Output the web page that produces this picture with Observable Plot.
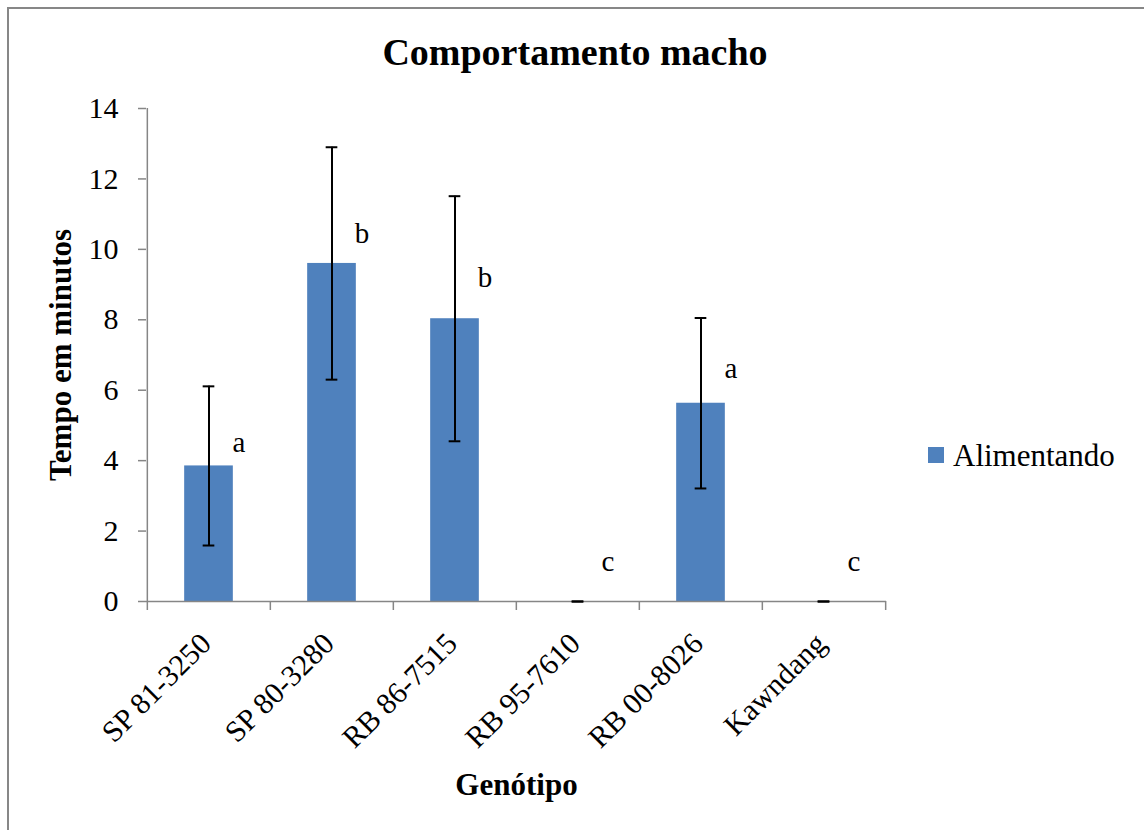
<!DOCTYPE html>
<html>
<head>
<meta charset="utf-8">
<script src="https://cdn.jsdelivr.net/npm/d3@7"></script>
<script src="https://cdn.jsdelivr.net/npm/@observablehq/plot@0.6"></script>
<style>
  body { margin: 0; background: #fff; }
  #page { position: relative; width: 1144px; height: 830px; overflow: hidden; font-family: "Liberation Serif", "Times New Roman", serif; color: #000; }
  #border { position: absolute; left: 7px; top: 7px; width: 1300px; height: 1000px; border-left: 2px solid #878787; border-top: 2px solid #878787; }
  #title { position: absolute; left: 3px; top: 30px; width: 1144px; text-align: center; font-weight: bold; font-size: 38px; line-height: normal; }
  #chart { position: absolute; left: 0; top: 90px; }
  #swatch { position: absolute; left: 928px; top: 447px; width: 16px; height: 16px; background: #4F81BD; }
  #legendText { position: absolute; left: 953px; top: 438px; font-size: 31px; line-height: normal; white-space: nowrap; }
</style>
</head>
<body>
<div id="page">
  <div id="border"></div>
  <div id="title">Comportamento macho</div>
  <div id="chart"></div>
  <div id="swatch"></div>
  <div id="legendText">Alimentando</div>
</div>
<script>
// ---- data ----
const categories = ["SP 81-3250", "SP 80-3280", "RB 86-7515", "RB 95-7610", "RB 00-8026", "Kawndang"];
const means = [3.85, 9.60, 8.03, 0, 5.63, 0];
const errors = [2.26, 3.30, 3.48, 0, 2.42, 0];
const letters = ["a", "b", "b", "c", "a", "c"];
const letterY = [4.5, 10.45, 9.19, 1.13, 6.6, 1.13];
const yTicks = [0, 2, 4, 6, 8, 10, 12, 14];
const seriesName = "Alimentando";

const rows = categories.map((c, i) => ({ c, m: means[i], e: errors[i], l: letters[i], ly: letterY[i] }));

const W = 1144, H = 740, mL = 146, mR = 258, mT = 18, mB = 229;
const bw = (W - mL - mR) / categories.length;
const barW = 49, capW = 12;
const font = '"Liberation Serif", "Times New Roman", serif';
const gray = "#868686";
const blue = "#4F81BD";

const chart = Plot.plot({
  width: W, height: H,
  marginLeft: mL, marginRight: mR, marginTop: mT, marginBottom: mB,
  style: { fontFamily: font, background: "transparent", overflow: "visible", color: "#000" },
  x: { type: "band", domain: categories, padding: 0 },
  y: { domain: [0, 14] },
  marks: [
    Plot.barY(rows, { x: "c", y: "m", fill: blue, insetLeft: (bw - barW) / 2, insetRight: (bw - barW) / 2 }),
    Plot.ruleY([0], { stroke: gray, strokeWidth: 1.5 }),
    Plot.ruleX([categories[0]], { dx: -bw / 2, stroke: gray, strokeWidth: 1.5 }),
    Plot.axisY({ ticks: yTicks, tickSize: 8, tickPadding: 20, fontSize: 30, stroke: gray, strokeWidth: 1.5, fill: "#000", label: null }),
    Plot.axisX({ ticks: categories, tickSize: 9, tickFormat: () => "", dx: -bw / 2, stroke: gray, strokeWidth: 1.5, label: null }),
    Plot.axisX({ ticks: [categories[categories.length - 1]], tickSize: 9, tickFormat: () => "", dx: bw / 2, stroke: gray, strokeWidth: 1.5, label: null }),
    Plot.ruleX(rows, { x: "c", y1: d => d.m - d.e, y2: d => d.m + d.e, stroke: "#000", strokeWidth: 2 }),
    Plot.tickY(rows, { x: "c", y: d => d.m + d.e, stroke: "#000", strokeWidth: 2, insetLeft: (bw - capW) / 2, insetRight: (bw - capW) / 2 }),
    Plot.tickY(rows, { x: "c", y: d => d.m - d.e, stroke: "#000", strokeWidth: 2, insetLeft: (bw - capW) / 2, insetRight: (bw - capW) / 2 }),
    Plot.text(rows, { x: "c", y: "ly", text: "l", dx: 30, fontSize: 29, lineAnchor: "middle", fill: "#000" }),
    Plot.text(categories, { x: d => d, text: d => d, frameAnchor: "bottom", rotate: -45, textAnchor: "end", lineAnchor: "middle", dx: -3, dy: 37, fontSize: 30, fill: "#000" }),
    Plot.text(["Tempo em minutos"], { text: d => d, frameAnchor: "left", rotate: -90, dx: -85, fontSize: 31, fontWeight: "bold", lineAnchor: "middle", textAnchor: "middle", fill: "#000" }),
    Plot.text(["Genótipo"], { text: d => d, frameAnchor: "bottom", dy: 184, fontSize: 31, fontWeight: "bold", lineAnchor: "middle", textAnchor: "middle", fill: "#000" })
  ]
});
document.getElementById("chart").appendChild(chart);
document.getElementById("legendText").textContent = seriesName;
</script>
</body>
</html>
